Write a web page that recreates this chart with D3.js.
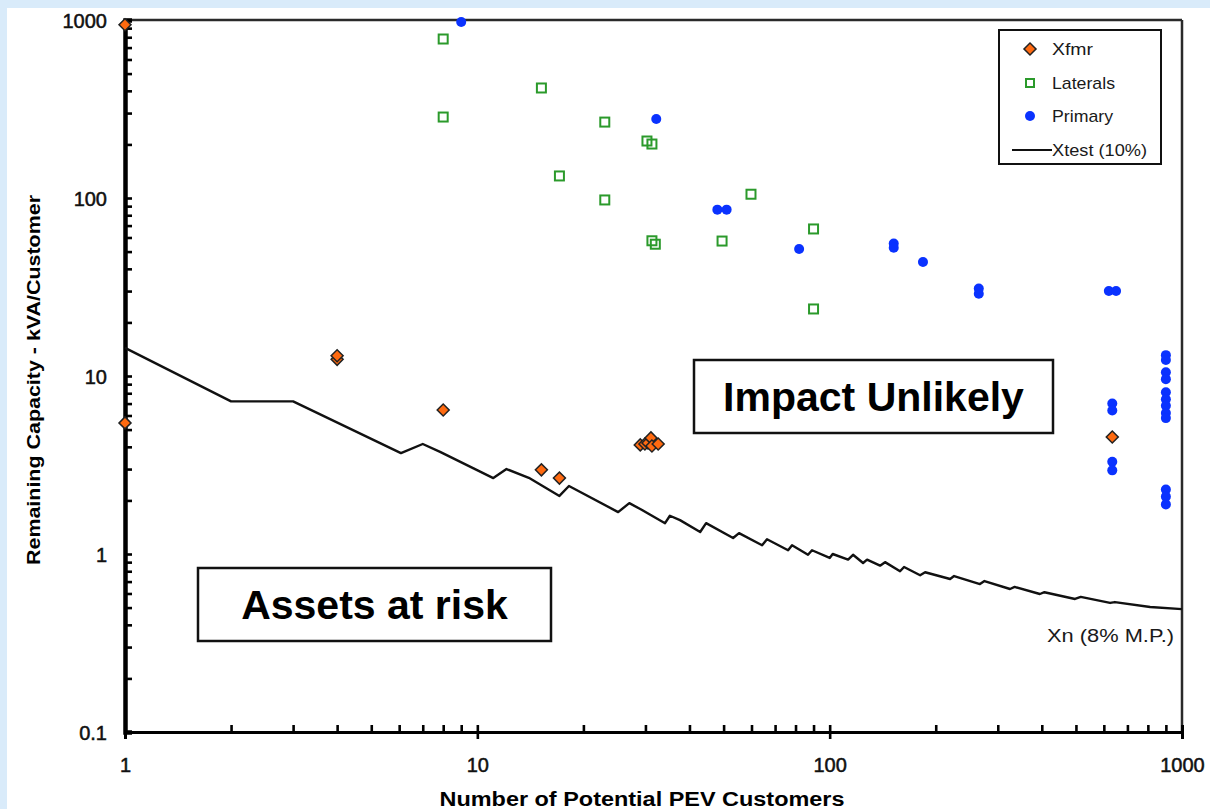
<!DOCTYPE html>
<html>
<head>
<meta charset="utf-8">
<script src="https://cdn.jsdelivr.net/npm/d3@7"></script>
<style>
  body { margin: 0; background: #d9ebfa; }
  svg { display: block; }
  text { font-family: "Liberation Sans", Arial, sans-serif; }
</style>
</head>
<body>
<div id="chart"></div>
<script>
// ---- data ----
let xfmr = [
  [1, 940], [1, 5.45], [4, 12.4], [4, 13.0], [8, 6.44], [15.2, 2.97], [17.1, 2.67],
  [29.0, 4.1], [29.9, 4.15], [30.5, 4.2], [31.1, 4.49], [31.3, 4.04], [32.6, 4.15],
  [634, 4.54]
];
let laterals = [
  [8, 782], [8, 285], [15.2, 415], [23, 267], [30.3, 209], [31.3, 201], [17.1, 133],
  [23, 97.5], [59.8, 105], [31.3, 57.5], [32, 55], [49.5, 57.3], [90, 67], [90, 23.8]
];
let primary = [
  [9, 975], [32.2, 278], [48, 86], [51, 86], [81.9, 51.7], [152, 55.5], [152, 52.5],
  [184, 43.7], [265, 29], [265, 31], [620, 30], [650, 30],
  [634, 7.0], [634, 6.4], [634, 3.3], [634, 2.95],
  [900, 13.1], [900, 12.3], [900, 10.5], [900, 9.6], [900, 8.1], [900, 7.4],
  [900, 6.8], [900, 6.2], [900, 5.8], [900, 2.3], [900, 2.1], [900, 1.9]
];
let xtest = [
  [1, 14.4], [2, 7.2], [3, 7.2], [6.07, 3.69], [7, 4.15], [7.84, 3.75], [11.1, 2.67],
  [12.1, 3.0], [14, 2.68], [17.1, 2.12], [18.2, 2.41], [25.1, 1.72], [27, 1.93],
  [29, 1.79], [34.1, 1.49], [35.2, 1.64], [37.6, 1.55], [42.9, 1.33], [44.6, 1.49],
  [53.2, 1.23], [55.3, 1.31], [64.3, 1.12], [66.4, 1.21], [76.2, 1.05], [78.2, 1.12],
  [86.8, 0.99], [89.1, 1.05], [100, 0.95], [102, 1.0], [112.8, 0.93], [116.5, 0.99],
  [124.4, 0.89], [127.7, 0.93], [139, 0.86], [143.6, 0.90], [158.4, 0.80], [162.6, 0.845],
  [180.6, 0.76], [186.6, 0.79], [219.7, 0.724], [225.5, 0.752], [267, 0.678], [275, 0.705],
  [325, 0.636], [335, 0.653], [395, 0.596], [407, 0.61], [497, 0.559], [516, 0.574],
  [625, 0.531], [645, 0.537], [812, 0.504], [1000, 0.49]
];
let xTickLabels = [1, 10, 100, 1000];
let yTickLabels = [0.1, 1, 10, 100, 1000];
let legendNames = ["Xfmr", "Laterals", "Primary", "Xtest (10%)"];
let legendWidths = [41, 63, 61, 95];
let xTitle = "Number of Potential PEV Customers";
let yTitle = "Remaining Capacity - kVA/Customer";

// ---- layout ----
let svgWidth = 1210, svgHeight = 809;
let plot = {left: 125, top: 20, right: 1182, bottom: 732};

let svg = d3.select("#chart").append("svg")
  .attr("width", svgWidth)
  .attr("height", svgHeight);

// white panel over the blue slide background
svg.append("rect").attr("x", 7).attr("y", 8)
  .attr("width", svgWidth - 7).attr("height", svgHeight - 8)
  .attr("fill", "#fff");

let x = d3.scaleLog().domain([1, 1000]).range([plot.left, plot.right]);
let y = d3.scaleLog().domain([0.1, 1000]).range([plot.bottom, plot.top]);

// frame top / right
svg.append("line").attr("x1", plot.left).attr("x2", plot.right)
  .attr("y1", plot.top).attr("y2", plot.top)
  .attr("stroke", "#2a2a2a").attr("stroke-width", 2.5);
svg.append("line").attr("x1", plot.right).attr("x2", plot.right)
  .attr("y1", plot.top).attr("y2", plot.bottom)
  .attr("stroke", "#2a2a2a").attr("stroke-width", 2.5);

let noLabel = () => "";

// minor ticks pointing into the plot
let yMinor = svg.append("g").attr("class", "ticks")
  .attr("transform", `translate(${plot.left},0)`)
  .call(d3.axisRight(y).tickValues(y.ticks()).tickSize(7).tickFormat(noLabel));
let xMinor = svg.append("g").attr("class", "ticks")
  .attr("transform", `translate(0,${plot.bottom})`)
  .call(d3.axisTop(x).tickValues(x.ticks()).tickSize(7).tickFormat(noLabel));

// major ticks with labels
let yMajor = svg.append("g").attr("class", "ticks")
  .attr("transform", `translate(${plot.left},0)`)
  .call(d3.axisLeft(y).tickValues(yTickLabels).tickSize(0)
    .tickPadding(18).tickFormat(d => d < 1 ? "0.1" : d3.format("d")(d)));
let xMajor = svg.append("g").attr("class", "ticks")
  .attr("transform", `translate(0,${plot.bottom})`)
  .call(d3.axisBottom(x).tickValues(xTickLabels).tickSize(7)
    .tickPadding(19).tickFormat(d3.format("d")));

svg.selectAll("g.ticks .tick line")
  .attr("stroke", "#000").attr("stroke-width", 2.6);
svg.selectAll("g.ticks .domain")
  .attr("stroke", "#000").attr("stroke-width", 3);
yMinor.select(".domain").attr("stroke-width", 4.5);
svg.selectAll("g.ticks text")
  .attr("font-size", 20).attr("fill", "#111")
  .attr("stroke", "#111").attr("stroke-width", 0.5)
  .attr("font-family", "'Liberation Sans', Arial, sans-serif");
yMajor.selectAll("text").attr("dy", "0.36em");

// axis titles
svg.append("text")
  .attr("x", 642).attr("y", 806)
  .attr("text-anchor", "middle")
  .attr("font-size", 20).attr("font-weight", "bold")
  .attr("textLength", 405).attr("lengthAdjust", "spacingAndGlyphs")
  .text(xTitle);
svg.append("text")
  .attr("transform", "translate(40,380) rotate(-90)")
  .attr("text-anchor", "middle")
  .attr("font-size", 19).attr("font-weight", "bold")
  .attr("textLength", 370).attr("lengthAdjust", "spacingAndGlyphs")
  .text(yTitle);

// Xtest line
let line = d3.line().x(d => x(d[0])).y(d => y(d[1]));
svg.append("path").datum(xtest)
  .attr("d", line)
  .attr("fill", "none").attr("stroke", "#111").attr("stroke-width", 2.4)
  .attr("stroke-linejoin", "round");

svg.append("text")
  .attr("x", 1174).attr("y", 642).attr("text-anchor", "end")
  .attr("font-size", 18).attr("fill", "#1a1a1a")
  .attr("textLength", 127).attr("lengthAdjust", "spacingAndGlyphs")
  .text("Xn (8% M.P.)");

// markers
let orange = "#ff6a10", green = "#2b9a2b", blue = "#0a32ff";
let diamond = d3.symbol().type(d3.symbolSquare).size(72);

svg.append("g").selectAll("rect")
  .data(laterals).enter().append("rect")
  .attr("x", d => x(d[0]) - 4.5).attr("y", d => y(d[1]) - 4.5)
  .attr("width", 9).attr("height", 9)
  .attr("fill", "none").attr("stroke", green).attr("stroke-width", 2);

svg.append("g").selectAll("circle")
  .data(primary).enter().append("circle")
  .attr("cx", d => x(d[0])).attr("cy", d => y(d[1]))
  .attr("r", 5).attr("fill", blue);

svg.append("g").selectAll("path")
  .data(xfmr).enter().append("path")
  .attr("d", diamond)
  .attr("transform", d => `translate(${x(d[0])},${y(d[1])}) rotate(45)`)
  .attr("fill", orange).attr("stroke", "#222").attr("stroke-width", 1.5);

// legend
let legend = svg.append("g");
legend.append("rect").attr("x", 999).attr("y", 30).attr("width", 162).attr("height", 134)
  .attr("fill", "#fff").attr("stroke", "#111").attr("stroke-width", 2);
let legY = [49, 83, 116, 150];
legend.append("path").attr("d", diamond)
  .attr("transform", `translate(1030,${legY[0]}) rotate(45)`)
  .attr("fill", orange).attr("stroke", "#222").attr("stroke-width", 1.5);
legend.append("rect").attr("x", 1026).attr("y", legY[1] - 4).attr("width", 8).attr("height", 8)
  .attr("fill", "none").attr("stroke", green).attr("stroke-width", 2);
legend.append("circle").attr("cx", 1030).attr("cy", legY[2]).attr("r", 5).attr("fill", blue);
legend.append("line").attr("x1", 1012).attr("x2", 1052).attr("y1", legY[3]).attr("y2", legY[3])
  .attr("stroke", "#111").attr("stroke-width", 2);
legend.selectAll("text.leg").data(legendNames).enter().append("text")
  .attr("class", "leg")
  .attr("x", 1052)
  .attr("y", (d, i) => legY[i] + 6)
  .attr("font-size", 17).attr("fill", "#1a1a1a")
  .attr("textLength", (d, i) => legendWidths[i]).attr("lengthAdjust", "spacingAndGlyphs")
  .text(d => d);

// annotation boxes
let notes = [
  {label: "Impact Unlikely", x: 694, y: 360, w: 359, h: 73},
  {label: "Assets at risk", x: 198, y: 568, w: 353, h: 73}
];
notes.forEach(n => {
  svg.append("rect").attr("x", n.x).attr("y", n.y).attr("width", n.w).attr("height", n.h)
    .attr("fill", "#fff").attr("stroke", "#111").attr("stroke-width", 2.5);
  svg.append("text").attr("x", n.x + n.w / 2).attr("y", n.y + 51)
    .attr("text-anchor", "middle")
    .attr("font-size", 41).attr("font-weight", "bold").attr("fill", "#000")
    .text(n.label);
});
</script>
</body>
</html>
